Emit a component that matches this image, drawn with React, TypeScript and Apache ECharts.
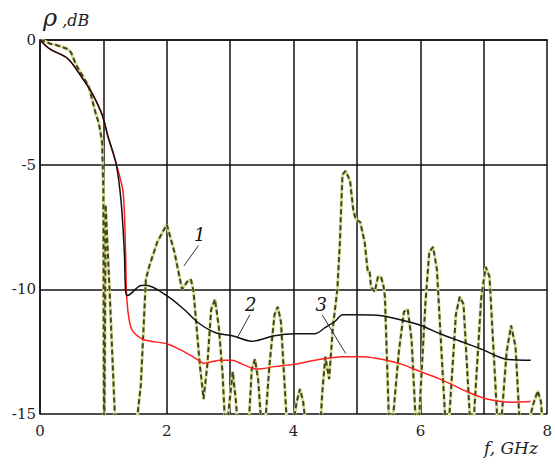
import React, { useEffect, useRef } from "react";
import * as echarts from "echarts";

// Curve 1 (measured, oscillating)
const freq1 = [0, 0.08, 0.16, 0.25, 0.33, 0.44, 0.49, 0.57, 0.66, 0.77, 0.87, 0.93, 0.98, 1.0, 1.01, 1.025, 1.035, 1.1, 1.18, 1.22, 1.5, 1.54, 1.59, 1.67, 1.72, 1.85, 2.0, 2.12, 2.24, 2.32, 2.38, 2.42, 2.52, 2.58, 2.64, 2.7, 2.76, 2.82, 2.88, 2.93, 2.99, 3.04, 3.09, 3.15, 3.28, 3.34, 3.39, 3.44, 3.52, 3.62, 3.7, 3.75, 3.8, 3.92, 4.05, 4.1, 4.15, 4.24, 4.4, 4.45, 4.5, 4.56, 4.62, 4.69, 4.73, 4.77, 4.82, 4.89, 4.94, 4.98, 5.05, 5.12, 5.17, 5.2, 5.22, 5.28, 5.33, 5.38, 5.42, 5.44, 5.52, 5.66, 5.74, 5.8, 5.86, 5.95, 6.08, 6.14, 6.2, 6.26, 6.42, 6.56, 6.62, 6.68, 6.81, 6.96, 7.03, 7.09, 7.24, 7.36, 7.43, 7.5, 7.59, 7.78, 7.85, 7.9, 7.96, 8.0];
const db1 = [0, -0.05, -0.15, -0.2, -0.26, -0.37, -0.5, -1.0, -1.38, -1.87, -2.87, -3.36, -4.1, -6.1, -17, -12, -6.6, -10.2, -15, -17, -17, -15, -13.85, -9.6, -9.1, -8.1, -7.4, -8.5, -10.0, -9.7, -9.6, -10.05, -13.0, -14.4, -13.0, -10.8, -10.4, -11.5, -13.4, -16, -14.5, -13.3, -14.5, -16.5, -16, -13.2, -12.8, -13.6, -16.5, -13, -11.0, -10.7, -11.3, -16.5, -14.5, -14.0, -14.5, -16.5, -16.5, -14.2, -12.7, -13.6, -11.5, -10.0, -8.1, -5.4, -5.25, -5.65, -6.8, -7.2, -7.3, -8.1, -9.3, -9.3, -9.9, -10.1, -9.5, -9.5, -9.9, -10.3, -16.5, -12.5, -10.9, -10.8, -12.0, -16.5, -10.5, -8.5, -8.3, -9.2, -16.5, -11.0, -10.3, -10.6, -16.5, -10.3, -9.1, -9.5, -16.5, -12.5, -11.45, -12.3, -16.5, -14.6, -14.07, -14.5, -16.5, -17];

// Curve 2 (black, smooth)
const freq2 = [0, 0.16, 0.44, 0.66, 0.82, 0.98, 1.07, 1.2, 1.28, 1.33, 1.35, 1.38, 1.56, 1.67, 2.0, 2.27, 2.5, 2.77, 3.03, 3.34, 3.7, 4.02, 4.34, 4.5, 4.66, 4.77, 4.98, 5.39, 5.7, 6.0, 6.31, 6.63, 6.98, 7.35, 7.74];
const db2 = [0, -0.37, -0.75, -1.5, -2.13, -3.0, -3.85, -4.96, -6.5, -8.5, -10.05, -10.25, -9.88, -9.84, -10.25, -10.8, -11.35, -11.74, -11.86, -12.08, -11.86, -11.78, -11.78, -11.53, -11.27, -11.02, -11.02, -11.06, -11.23, -11.44, -11.78, -12.08, -12.42, -12.8, -12.84];

// Curve 3 (red)
const freq3 = [0, 0.16, 0.44, 0.66, 0.82, 0.98, 1.07, 1.2, 1.31, 1.35, 1.37, 1.44, 1.61, 1.75, 2.02, 2.27, 2.5, 2.58, 2.83, 3.03, 3.19, 3.42, 3.7, 4.02, 4.34, 4.77, 5.09, 5.39, 5.7, 6.0, 6.31, 6.73, 7.05, 7.44, 7.74];
const db3 = [0, -0.37, -0.75, -1.5, -2.13, -3.0, -3.85, -4.95, -6.1, -8.5, -10.4, -11.57, -12.0, -12.08, -12.2, -12.5, -12.84, -12.97, -12.84, -12.84, -13.0, -13.2, -13.1, -13.0, -12.84, -12.7, -12.7, -12.8, -13.0, -13.3, -13.6, -14.1, -14.4, -14.53, -14.5];

// Curve labels with leader lines
const curveLabels = ["1", "2", "3"];
const leaderFrom = [[2.27, -9.06], [3.11, -11.95], [4.82, -12.57]];
const leaderTo = [[2.5, -8.24], [3.31, -11.02], [4.45, -11.02]];

const xTicks = [0, 2, 4, 6, 8];

const serif = "DejaVu Serif";

export default function App() {
  const ref = useRef<HTMLDivElement>(null);
  useEffect(() => {
    if (!ref.current) return;
    const chart = echarts.init(ref.current, null, { renderer: "svg" });
    const d1 = freq1.map((f, i) => [f, db1[i]]);
    const d2 = freq2.map((f, i) => [f, db2[i]]);
    const d3 = freq3.map((f, i) => [f, db3[i]]);
    const markData = curveLabels.map((lab, i) => [
      { coord: leaderFrom[i], name: lab },
      { coord: leaderTo[i], name: lab },
    ]);
    chart.setOption({
      animation: false,
      backgroundColor: "#ffffff",
      textStyle: { fontFamily: serif },
      grid: { left: 40, top: 40, right: 5, bottom: 50, containLabel: false },
      xAxis: {
        type: "value",
        min: 0,
        max: 8,
        interval: 1,
        axisLine: { show: true, lineStyle: { color: "#111", width: 1.5 } },
        axisTick: { show: false },
        splitLine: { show: true, lineStyle: { color: "#111", width: 1.5 } },
        axisLabel: {
          margin: 9,
          color: "#222",
          fontFamily: serif,
          fontSize: 15,
          formatter: (v: number) => (xTicks.indexOf(v) >= 0 ? String(v) : ""),
        },
      },
      yAxis: {
        type: "value",
        min: -15,
        max: 0,
        interval: 5,
        axisLine: { show: true, lineStyle: { color: "#111", width: 1.5 } },
        axisTick: { show: false },
        splitLine: { show: true, lineStyle: { color: "#111", width: 1.5 } },
        axisLabel: { margin: 4, color: "#222", fontFamily: serif, fontSize: 15 },
      },
      graphic: [
        {
          type: "text",
          left: 43,
          top: 6,
          style: {
            text: "{r|ρ}{t| ,dB}",
            fill: "#222",
            rich: {
              r: { fontFamily: serif, fontStyle: "italic", fontSize: 24, fill: "#222" },
              t: { fontFamily: serif, fontStyle: "italic", fontSize: 16, fill: "#222", padding: [4, 0, 0, 0] },
            },
          },
        },
        {
          type: "text",
          left: 484,
          top: 439,
          style: {
            text: "f, GHz",
            fill: "#222",
            fontFamily: serif,
            fontStyle: "italic",
            fontSize: 17,
          },
        },
      ],
      series: [
        {
          type: "line",
          data: d1,
          showSymbol: false,
          lineStyle: { color: "#d9e09c", width: 3 },
          z: 2,
        },
        {
          type: "line",
          data: d1,
          showSymbol: false,
          lineStyle: { color: "#44441c", width: 2, type: [5, 3] },
          z: 3,
        },
        {
          type: "line",
          data: d3,
          showSymbol: false,
          smooth: 0.3,
          lineStyle: { color: "#ff2020", width: 1.5 },
          z: 4,
        },
        {
          type: "line",
          data: d2,
          showSymbol: false,
          smooth: 0.3,
          lineStyle: { color: "#111", width: 1.5 },
          z: 5,
          markLine: {
            silent: true,
            symbol: ["none", "none"],
            lineStyle: { color: "#333", width: 1, type: "solid" },
            label: {
              show: true,
              position: "end",
              formatter: (p: any) => p.name,
              fontFamily: serif,
              fontStyle: "italic",
              fontSize: 18,
              color: "#111",
              distance: 2,
            },
            data: markData,
          },
        },
      ],
    });
    return () => chart.dispose();
  }, []);
  return (
    <div
      ref={ref}
      style={{ position: "fixed", left: 0, top: 0, width: 555, height: 464 }}
    />
  );
}
